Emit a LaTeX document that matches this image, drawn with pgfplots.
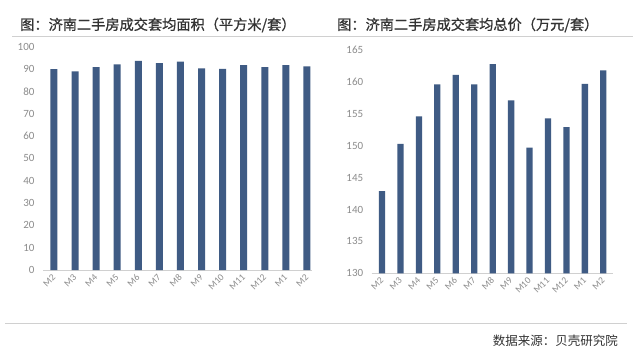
\documentclass[border=0pt]{standalone}
\usepackage{fontspec}
\usepackage{pgfplots}
\pgfplotsset{compat=1.18}
\setmainfont{Carlito}
\newfontfamily\cjk{Noto Sans CJK SC}
\newfontfamily\cjkt[FakeBold=1]{Noto Sans CJK SC}
\definecolor{barblue}{HTML}{3F5B84}
\definecolor{ticklab}{HTML}{8C8C8C}
\definecolor{axisgray}{HTML}{D0D0D0}
\definecolor{titlegray}{HTML}{333333}
\pgfplotsset{
  common/.style={
    scale only axis,
    ybar, bar width=6.8pt,
    axis y line*=left, axis x line*=bottom,
    y axis line style={draw=none},
    x axis line style={draw=axisgray, line width=0.8pt},
    ytick style={draw=none}, xtick style={draw=none},
    xtick=data,
    xticklabels={M2,M3,M4,M5,M6,M7,M8,M9,M10,M11,M12,M1,M2},
    xticklabel style={rotate=45, anchor=east, font=\fontsize{9.5}{9.5}\selectfont, text=ticklab, inner sep=1pt, yshift=-1pt},
    yticklabel style={font=\fontsize{11}{11}\selectfont, text=ticklab, xshift=-5pt},
    /pgf/number format/assume math mode=true,
    grid=none,
  }
}
\begin{document}
\begin{tikzpicture}[x=1pt,y=1pt]
\path[fill=white] (0,0) rectangle (641,360);
% separator lines
\draw[color=axisgray, line width=0.9pt] (12,324) -- (633,324);
\draw[color=axisgray, line width=0.9pt] (5,37) -- (627,37);
% titles
\node[anchor=west, text=titlegray, inner sep=0] at (20,335) {\cjkt\fontsize{14.2}{14.2}\selectfont 图：济南二手房成交套均面积（平方米/套）};
\node[anchor=west, text=titlegray, inner sep=0] at (337,335) {\cjkt\fontsize{14.2}{14.2}\selectfont 图：济南二手房成交套均总价（万元/套）};
\node[anchor=east, text=titlegray, inner sep=0] at (618,19) {\cjk\fontsize{12.5}{12.5}\selectfont 数据来源：贝壳研究院};
% left chart
\begin{axis}[common,
  at={(43pt,90pt)}, anchor=south west,
  width=269pt, height=223.3pt,
  xmin=-0.52, xmax=12.24,
  ymin=0, ymax=100, ytick={0,10,...,100},
  bar width=7pt,
]
\addplot[fill=barblue, draw=none] coordinates {
(0,90.0) (1,89.0) (2,90.9) (3,92.1) (4,93.6) (5,92.7) (6,93.3)
(7,90.3) (8,90.1) (9,91.7) (10,90.8) (11,91.8) (12,91.2)};
\end{axis}
% right chart
\begin{axis}[common,
  at={(371.7pt,86.7pt)}, anchor=south west,
  width=241pt, height=223.3pt,
  xmin=-0.56, xmax=12.51,
  ymin=130, ymax=165, ytick={130,135,...,165},
  bar width=6.3pt,
]
\addplot[fill=barblue, draw=none] coordinates {
(0,142.9) (1,150.3) (2,154.6) (3,159.6) (4,161.1) (5,159.6) (6,162.8)
(7,157.1) (8,149.7) (9,154.3) (10,152.9) (11,159.7) (12,161.8)};
\end{axis}
\end{tikzpicture}
\end{document}
